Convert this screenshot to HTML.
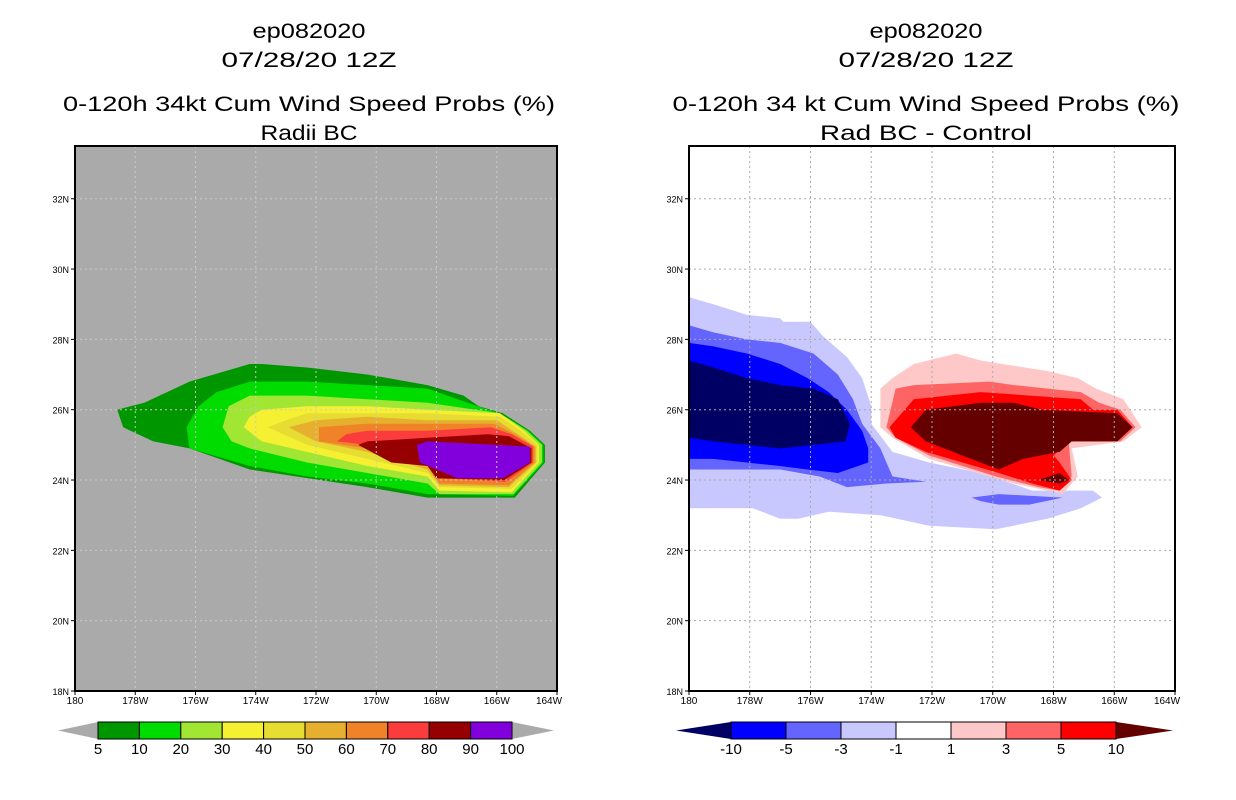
<!DOCTYPE html>
<html><head><meta charset="utf-8"><style>
body{margin:0;background:#fff;width:1236px;height:800px;overflow:hidden}
svg{display:block}
text{font-family:"Liberation Sans",sans-serif;fill:#000}
</style></head><body>
<svg id="s" width="1236" height="800"></svg>
<script>
// ---- data ----
const lonTicks=[180,178,176,174,172,170,168,166,164];
const lonTickLabels=["180","178W","176W","174W","172W","170W","168W","166W","164W"];
const latTicks=[18,20,22,24,26,28,30,32];
const latTickLabels=["18N","20N","22N","24N","26N","28N","30N","32N"];
const probLevels=["5","10","20","30","40","50","60","70","80","90","100"];
const probColors=["#009600","#00dc00","#a0e632","#f5f032","#e6dc32","#e6af2d","#f08228","#fa3c3c","#960000","#8200dc"];
const diffLevels=["-10","-5","-3","-1","1","3","5","10"];
const diffColors=["#000064","#0000ff","#6464ff","#c8c8ff","#ffffff","#ffc8c8","#ff6464","#ff0000","#640000"];
// contour polygons: [lonW, latN]
const prob5=[[178.6,26.0],[178.4,25.5],[177.4,25.1],[176.2,24.9],[174.2,24.3],[170.3,23.8],[168.3,23.5],[165.4,23.5],[164.4,24.5],[164.4,25.0],[164.9,25.4],[165.8,25.9],[166.6,26.1],[167.1,26.4],[168.3,26.7],[170.3,27.0],[172.3,27.2],[173.8,27.3],[174.2,27.3],[176.2,26.8],[177.7,26.2]];
const prob10=[[176.3,25.5],[176.2,24.9],[174.2,24.4],[172.3,24.1],[170.3,23.9],[168.3,23.6],[165.45,23.55],[164.45,24.5],[164.45,25.0],[164.95,25.4],[165.9,25.9],[166.3,26.0],[168.3,26.6],[170.3,26.7],[172.3,26.8],[174.2,26.8],[175.3,26.5],[175.9,26.1]];
const prob20=[[175.1,25.5],[174.8,25.1],[174.2,24.9],[172.3,24.5],[170.3,24.2],[168.3,23.9],[167.9,23.6],[165.45,23.6],[164.5,24.5],[164.5,25.0],[165.0,25.4],[165.9,25.9],[168.3,26.2],[170.3,26.3],[172.3,26.4],[174.2,26.4],[174.9,26.1],[175.0,25.8]];
const prob30=[[174.4,25.5],[173.8,25.1],[172.3,24.8],[170.3,24.4],[168.3,24.1],[167.9,23.7],[165.5,23.65],[164.6,24.5],[164.6,25.0],[165.1,25.4],[165.9,25.9],[168.3,26.0],[170.3,26.1],[172.3,26.1],[173.8,26.0],[174.2,25.8]];
const prob40=[[173.6,25.5],[172.3,25.0],[170.3,24.6],[168.3,24.2],[167.9,23.8],[165.5,23.75],[164.65,24.5],[164.65,25.0],[165.2,25.4],[165.9,25.8],[168.3,25.9],[170.3,25.9],[172.3,25.9],[173.0,25.7]];
const prob50=[[172.9,25.5],[172.0,25.1],[170.3,24.8],[168.3,24.3],[167.9,23.85],[165.6,23.8],[164.7,24.5],[164.7,24.95],[165.3,25.3],[166.0,25.7],[168.3,25.7],[170.3,25.8],[172.0,25.7]];
const prob60=[[171.9,25.5],[171.9,25.1],[170.3,24.9],[168.3,24.4],[167.9,23.9],[165.6,23.85],[164.75,24.5],[164.75,24.95],[165.4,25.3],[166.1,25.6],[168.3,25.6],[170.3,25.6]];
const prob70=[[171.3,25.1],[170.3,25.0],[169.8,24.7],[168.3,24.5],[167.9,24.05],[165.7,23.95],[164.8,24.5],[164.8,24.95],[165.5,25.3],[166.2,25.5],[168.3,25.4],[170.3,25.4],[171.0,25.3]];
const prob80=[[170.6,25.0],[169.5,24.5],[168.3,24.4],[168.0,24.05],[165.75,24.0],[164.85,24.5],[164.85,24.9],[165.6,25.25],[166.3,25.3],[168.3,25.2],[170.3,25.1]];
const prob90=[[168.65,25.0],[168.55,24.5],[167.3,24.05],[165.8,24.05],[164.9,24.5],[164.9,24.95],[168.3,25.1]];
const dM1=[[180,29.2],[179.2,29.0],[178.1,28.7],[177.0,28.6],[176.9,28.5],[176.0,28.5],[175.6,28.1],[174.8,27.5],[174.3,26.9],[174.0,26.1],[174.0,25.6],[173.3,24.8],[172.1,24.5],[170.4,24.2],[169.7,24.0],[168.7,23.7],[167.7,23.7],[166.7,23.7],[166.4,23.5],[167.1,23.2],[168.2,22.9],[169.9,22.6],[172.1,22.7],[173.7,23.0],[175.4,23.1],[176.4,22.9],[177.0,22.9],[177.9,23.2],[179.2,23.2],[180,23.2]];
const dM3=[[180,28.4],[179.2,28.2],[178.1,28.0],[177.0,27.9],[175.9,27.6],[175.1,27.0],[174.6,26.3],[174.3,25.6],[173.7,24.9],[173.3,24.1],[172.2,23.95],[173.5,23.9],[174.8,23.8],[175.7,24.1],[177.0,24.3],[178.1,24.3],[179.2,24.3],[180,24.3]];
const dM3b=[[170.7,23.5],[169.8,23.6],[167.7,23.5],[168.8,23.3],[169.8,23.3],[170.4,23.4]];
const dM5=[[180,27.9],[179.2,27.8],[178.1,27.6],[177.0,27.3],[176.1,26.9],[175.4,26.5],[174.8,26.0],[174.3,25.4],[174.1,24.9],[174.1,24.5],[175.1,24.2],[176.1,24.3],[177.0,24.4],[178.1,24.5],[179.2,24.6],[180,24.6]];
const dM10=[[180,27.4],[179.2,27.2],[178.1,26.9],[177.0,26.7],[175.9,26.6],[175.1,26.3],[174.7,25.6],[174.85,25.1],[175.9,25.0],[177.0,24.9],[178.1,25.0],[179.2,25.1],[180,25.2]];
const dP1=[[173.7,26.6],[173.3,26.9],[172.6,27.3],[171.2,27.6],[170.4,27.4],[168.2,27.1],[167.2,26.9],[166.6,26.6],[165.7,26.3],[165.1,25.5],[165.7,25.1],[167.4,24.9],[167.2,24.1],[167.7,23.6],[168.2,23.7],[169.3,23.9],[170.1,24.1],[172.1,24.6],[173.3,25.2],[173.7,25.5]];
const dP3=[[173.2,26.6],[172.6,26.7],[170.1,26.8],[169.3,26.7],[167.1,26.5],[166.5,26.2],[165.8,26.0],[165.3,25.5],[165.8,25.1],[167.5,25.1],[167.4,24.1],[167.8,23.7],[168.5,23.8],[169.9,24.1],[172.1,24.7],[173.2,25.2],[173.5,25.5]];
const dP5=[[173.4,25.5],[172.6,26.3],[170.4,26.5],[167.1,26.3],[166.7,26.0],[165.9,26.0],[165.4,25.5],[165.9,25.1],[167.5,25.1],[168.0,24.7],[167.8,24.5],[167.4,24.0],[167.8,23.7],[168.7,23.9],[169.8,24.2],[172.2,24.8],[173.2,25.2]];
const dP10=[[172.7,25.5],[172.2,26.0],[170.4,26.2],[169.3,26.2],[168.4,26.0],[165.9,25.9],[165.4,25.5],[165.9,25.1],[167.4,25.1],[167.8,24.8],[169.0,24.6],[169.8,24.3],[170.4,24.5],[172.2,25.1]];
const dP10b=[[168.5,24.0],[167.8,24.2],[167.5,24.0],[167.8,23.9]];

const S=document.getElementById('s');const NS='http://www.w3.org/2000/svg';
function el(t,a,p){const e=document.createElementNS(NS,t);for(const k in a)e.setAttribute(k,a[k]);(p||S).appendChild(e);return e;}
function mkAxes(x0,x1){const y0=146,y1=691;
  return {x0,x1,y0,y1,
    X:l=>x0+(180-l)/16*(x1-x0),
    Y:la=>y1-(la-18)/(33.5-18)*(y1-y0)};}
const A=mkAxes(75,557), B=mkAxes(689,1175);
function poly(ax,pts,fill,name){const p=el('polygon',{points:pts.map(q=>ax.X(q[0]).toFixed(1)+','+ax.Y(q[1]).toFixed(1)).join(' '),fill:fill});
  
  return p;}
function txt(x,y,s,size,anchor,name,len){const t=el('text',{x:x,y:y,'font-size':size,'text-anchor':anchor||'middle'});t.textContent=s;
  if(len){t.setAttribute('textLength',len);t.setAttribute('lengthAdjust','spacingAndGlyphs');}
  
  return t;}
function frame(ax,bg,name){const r=el('rect',{x:ax.x0,y:ax.y0,width:ax.x1-ax.x0,height:ax.y1-ax.y0,fill:bg});
  
  }
function grid(ax,col){lonTicks.forEach(l=>{const x=ax.X(l);if(x>ax.x0+1&&x<ax.x1-1){const g=el('line',{x1:x,x2:x,y1:ax.y0,y2:ax.y1,stroke:col,'stroke-width':1,'stroke-dasharray':'2,3'});
    
    }});
  latTicks.forEach(l=>{const y=ax.Y(l);if(y>ax.y0+1&&y<ax.y1-1){const g=el('line',{x1:ax.x0,x2:ax.x1,y1:y,y2:y,stroke:col,'stroke-width':1,'stroke-dasharray':'2,3'});
    
    }});}
function axes(ax){const b=el('rect',{x:ax.x0,y:ax.y0,width:ax.x1-ax.x0,height:ax.y1-ax.y0,fill:'none',stroke:'#000','stroke-width':2});
  
  
  lonTicks.forEach((l,i)=>{const x=ax.X(l);el('line',{x1:x,x2:x,y1:ax.y1,y2:ax.y1+4,stroke:'#000'});txt(Math.min(x,ax.x1-8),ax.y1+13,lonTickLabels[i],10,'middle','x-tick-label');});
  latTicks.forEach((l,i)=>{const y=ax.Y(l);el('line',{x1:ax.x0-4,x2:ax.x0,y1:y,y2:y,stroke:'#000'});txt(ax.x0-6,y+4,latTickLabels[i],9,'end','y-tick-label');});}

// Left panel
frame(A,'#aaaaaa','left-plot-area');
[prob5,prob10,prob20,prob30,prob40,prob50,prob60,prob70,prob80,prob90].forEach((p,i)=>poly(A,p,probColors[i],'prob-contour-'+probLevels[i]));
grid(A,'#c8c8c8');axes(A);
// Right panel
frame(B,'#ffffff','right-plot-area');
poly(B,dM1,diffColors[3],'diff-contour-minus1');poly(B,dM3,diffColors[2],'diff-contour-minus3');poly(B,dM3b,diffColors[2],'diff-contour-minus3-south');
poly(B,dM5,diffColors[1],'diff-contour-minus5');poly(B,dM10,diffColors[0],'diff-contour-minus10');
poly(B,dP1,diffColors[5],'diff-contour-plus1');poly(B,dP3,diffColors[6],'diff-contour-plus3');poly(B,dP5,diffColors[7],'diff-contour-plus5');
poly(B,dP10,diffColors[8],'diff-contour-plus10');poly(B,dP10b,diffColors[8],'diff-contour-plus10-south');
grid(B,'#aaaaaa');axes(B);

// titles
txt(309,38,'ep082020',21,'middle','left-title-storm',113);
txt(309,67,'07/28/20 12Z',21,'middle','left-title-date',175);
txt(309,111,'0-120h 34kt Cum Wind Speed Probs (%)',21,'middle','left-title-product',492);
txt(309,140,'Radii BC',21,'middle','left-subtitle',97);
txt(926,38,'ep082020',21,'middle','right-title-storm',113);
txt(926,67,'07/28/20 12Z',21,'middle','right-title-date',175);
txt(926,111,'0-120h 34 kt Cum Wind Speed Probs (%)',21,'middle','right-title-product',507);
txt(926,140,'Rad BC - Control',21,'middle','right-subtitle',212);

// colorbars
function cbar(x0,x1,tipL,tipR,cols,labels,name,triL,triR){const y0=722,y1=739,ym=730.5,n=cols.length,w=(x1-x0)/n;
  const tl=el('polygon',{points:`${tipL},${ym} ${x0},${y0} ${x0},${y1}`,fill:triL});
  const tr=el('polygon',{points:`${tipR},${ym} ${x1},${y0} ${x1},${y1}`,fill:triR});
  cols.forEach((c,i)=>{const r=el('rect',{x:x0+i*w,y:y0,width:w,height:y1-y0,fill:c,stroke:'#000','stroke-width':1});
    
    });
  labels.forEach((s,i)=>txt(x0+i*w,y1+15,s,15,'middle',name+'-label'));}
cbar(98,512,58,554,probColors,probLevels,'prob-colorbar','#aaaaaa','#aaaaaa');
cbar(731,1116,676,1173,diffColors.slice(1,8),diffLevels,'diff-colorbar',diffColors[0],diffColors[8]);
</script>
</body></html>
